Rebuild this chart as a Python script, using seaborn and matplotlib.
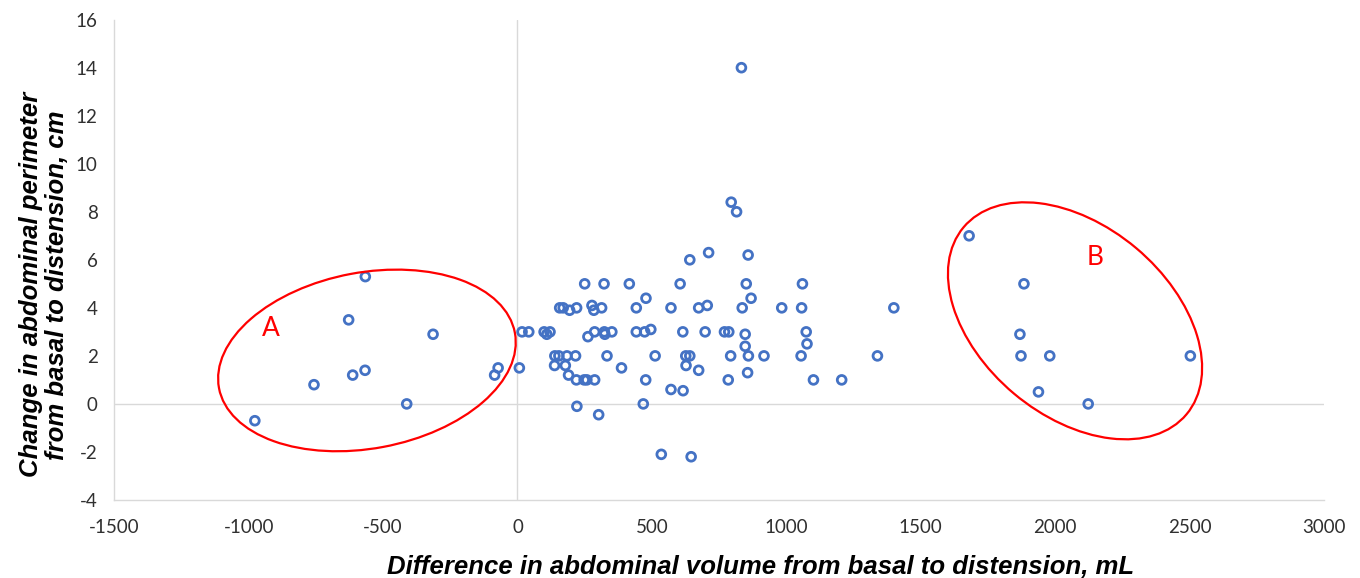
import matplotlib
matplotlib.use("Agg")
import matplotlib.pyplot as plt
import pandas as pd
import seaborn as sns
from matplotlib.patches import Ellipse
from matplotlib.transforms import ScaledTranslation

# difference in abdominal volume (mL) vs change in perimeter (cm)
vol_diff = [
    -977, -757, -628, -613, -567, -566, -412, -314, -85, -72,
    7, 17, 42, 99, 109, 121, 262, 287, 323, 325,
    351, 442, 473, 496, 615, 698, 770, 786, 847, 1074,
    1077, 847, 250, 322, 416, 605, 478, 157, 170, 194,
    220, 277, 284, 313, 442, 571, 674, 706, 836, 983,
    1057, 1400, 139, 154, 184, 216, 333, 512, 626, 641,
    793, 859, 917, 1055, 1339, 138, 178, 387, 627, 674,
    856, 190, 219, 248, 258, 287, 477, 784, 1101, 1206,
    571, 616, 221, 468, 302, 535, 646, 833, 795, 815,
    641, 711, 858, 851, 1060, 869, 1680, 1884, 1869, 1873,
    1980, 1938, 2123, 2503,
]
perim_change = [
    -0.7, 0.8, 3.5, 1.2, 1.4, 5.3, 0.0, 2.9, 1.2, 1.5,
    1.5, 3.0, 3.0, 3.0, 2.9, 3.0, 2.8, 3.0, 3.0, 2.9,
    3.0, 3.0, 3.0, 3.1, 3.0, 3.0, 3.0, 3.0, 2.9, 3.0,
    2.5, 2.4, 5.0, 5.0, 5.0, 5.0, 4.4, 4.0, 4.0, 3.9,
    4.0, 4.1, 3.9, 4.0, 4.0, 4.0, 4.0, 4.1, 4.0, 4.0,
    4.0, 4.0, 2.0, 2.0, 2.0, 2.0, 2.0, 2.0, 2.0, 2.0,
    2.0, 2.0, 2.0, 2.0, 2.0, 1.6, 1.6, 1.5, 1.6, 1.4,
    1.3, 1.2, 1.0, 1.0, 1.0, 1.0, 1.0, 1.0, 1.0, 1.0,
    0.6, 0.55, -0.1, 0.0, -0.45, -2.1, -2.2, 14.0, 8.4, 8.0,
    6.0, 6.3, 6.2, 5.0, 5.0, 4.4, 7.0, 5.0, 2.9, 2.0,
    2.0, 0.5, 0.0, 2.0,
]

x_ticks = [-1500, -1000, -500, 0, 500, 1000, 1500, 2000, 2500, 3000]
y_ticks = [-4, -2, 0, 2, 4, 6, 8, 10, 12, 14, 16]

x_title = "Difference in abdominal volume from basal to distension, mL"
y_title = "Change in abdominal perimeter\nfrom basal to distension, cm"

sns.set_theme(style="white")
plt.rcParams["font.family"] = ["Lato", "DejaVu Sans"]
plt.rcParams["axes.unicode_minus"] = False

df = pd.DataFrame({"vol": vol_diff, "perim": perim_change})

fig, ax = plt.subplots(figsize=(13.6, 5.78), dpi=100)
fig.subplots_adjust(left=0.084, right=0.9735, bottom=0.135, top=0.966)

ax.set_xlim(-1500, 3000)
ax.set_ylim(-4, 16)

# Excel style axes crossing at zero
ax.axvline(0, color="#D9D9D9", lw=1, zorder=0)
ax.axhline(0, color="#D9D9D9", lw=1, zorder=0)

sns.scatterplot(data=df, x="vol", y="perim", ax=ax, marker="o", s=40,
                facecolor="none", edgecolor="#4472C4", linewidth=2.0,
                zorder=3)

ax.set_xticks(x_ticks)
ax.set_yticks(y_ticks)
ax.tick_params(axis="both", length=0, labelsize=13.5, colors="#303030")
ax.tick_params(axis="x", pad=14)
ax.tick_params(axis="y", pad=12)

for side in ["top", "right"]:
    ax.spines[side].set_visible(False)
for side in ["left", "bottom"]:
    ax.spines[side].set_color("#D9D9D9")
    ax.spines[side].set_linewidth(1)

label_font = dict(family=["Liberation Sans", "DejaVu Sans"], fontsize=18.5,
                  fontweight="bold", fontstyle="italic", color="black")
ax.set_xlabel(x_title, va="center", **label_font)
ax.xaxis.set_label_coords(0.534, -0.14)
ax.set_ylabel(y_title, va="center", ha="center", linespacing=1.08, **label_font)
ax.yaxis.set_label_coords(-0.058, 0.448)


def ring(cx, cy, w, h, angle):
    # ellipse sized in inches, centred on a data point
    tr = fig.dpi_scale_trans + ScaledTranslation(cx, cy, ax.transData)
    ax.add_patch(Ellipse((0, 0), w, h, angle=angle, transform=tr,
                         fill=False, edgecolor="red", linewidth=1.6, zorder=4))


ring(-560, 1.81, 3.01, 1.76, 10.6)
ring(2074, 3.46, 2.91, 1.90, -40)

ax.text(-916, 3.15, "A", color="red", fontsize=19, ha="center", va="center")
ax.text(2147, 6.1, "B", color="red", fontsize=19, ha="center", va="center")

fig.savefig("out.png", dpi=100)
